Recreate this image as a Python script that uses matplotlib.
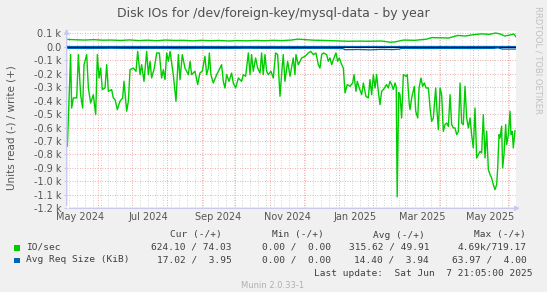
import matplotlib
matplotlib.use('Agg')
import matplotlib.pyplot as plt
import matplotlib.dates as mdates
from matplotlib.patches import Rectangle
import pandas as pd

# munin year graph: 400 days ending at last update
start = pd.Timestamp('2024-05-03 21:05')
end = pd.Timestamp('2025-06-07 21:05')

# IO/sec read (drawn negative), day offsets from start
read_days = [0.6, 3.5, 4.4, 5.9, 8.9, 10.4, 12.4, 14.2, 15.4, 17.8, 19.3, 21.3, 23.7, 25.8, 27.3,
             28.8, 30.2, 31.7, 34.1, 35.6, 37.1, 40.0, 41.5, 43.0, 45.1, 47.4, 49.8, 51.0, 53.4,
             54.9, 56.4, 59.3, 61.7, 63.2, 65.3, 66.7, 68.8, 71.2, 72.7, 74.2, 75.6, 78.0, 80.1,
             82.5, 84.5, 86.0, 87.5, 89.0, 90.5, 92.0, 94.9, 97.3,
             99.4, 100.9, 102.9, 105.3, 108.3, 109.8, 111.2, 114.2, 116.6, 118.6, 120.7, 123.1,
             124.6, 126.1, 127.0, 128.4, 130.5, 133.5, 136.5, 137.9, 139.4, 140.9, 142.4, 144.5,
             146.8, 148.3, 150.4, 152.8, 155.7, 157.2, 159.3, 161.7, 163.2, 164.6, 166.1, 168.2,
             170.0, 172.1, 173.5, 175.0, 176.5, 178.0, 179.5, 181.8, 183.9, 186.0, 187.8, 189.9,
             191.3, 192.8, 194.3, 196.7, 198.8, 201.7, 203.2,
             204.1, 206.2, 209.2, 212.2, 215.1, 217.2, 219.6, 221.9, 224.0, 225.5, 227.0, 228.5,
             231.4, 232.9, 234.4, 235.9, 237.4, 239.7, 241.2, 242.7, 244.8, 246.3, 247.8, 249.8,
             252.2, 254.6, 255.8, 257.5, 258.7, 260.5, 262.6, 264.1, 266.4, 268.5, 270.0, 271.5,
             273.0, 274.5, 275.9, 277.4, 278.9, 280.4, 281.9, 284.8, 286.3, 287.8, 289.3, 290.8,
             292.3, 293.4, 294.2, 295.6, 296.7, 298.2, 299.7, 302.0, 303.2, 305.0,
             305.7, 307.1, 309.5, 310.7, 312.5, 313.7, 315.4, 316.9, 318.4, 319.9, 322.0, 323.5,
             324.9, 326.4, 328.5, 329.7, 330.9, 332.4, 333.8, 335.3, 336.8, 338.3, 339.8, 341.3,
             342.7, 344.2, 345.7, 347.2, 348.7, 350.2, 351.6, 353.1, 354.6, 356.1, 357.6, 359.1,
             360.5, 362.0, 363.5, 365.0, 366.5, 368.0, 369.4, 370.9, 372.4, 373.9, 375.4, 376.9,
             378.3, 379.8, 381.3, 382.8, 383.7, 384.9, 385.8, 387.2, 388.1, 389.3, 390.8, 391.7,
             393.2, 394.7, 395.5, 396.7, 397.6, 399.1]
read_io = [739, 58, 455, 380, 380, 58, 356, 455, 133, 58, 306, 418, 356, 504, 58,
           232, 158, 318, 306, 133, 331, 318, 380, 393, 467, 405, 380, 257, 479,
           405, 170, 158, 182, 34, 207, 133, 257, 34, 207, 108, 232, 158, 46,
           46, 232, 170, 244, 46, 108, 34, 207, 405,
           58, 244, 58, 158, 207, 108, 207, 182, 281, 195, 182, 71,
           207, 158, 46, 207, 269, 207, 158, 133, 257, 306, 207, 257,
           195, 269, 306, 232, 257, 207, 219, 46, 207, 58, 182, 83,
           158, 195, 46, 207, 58, 182, 207, 182, 232, 46, 58, 368,
           207, 58, 257, 108, 219, 83, 207,
           58, 133, 83, 71, 46, 34, 58, 46, 133, 158, 58, 46,
           58, 108, 83, 133, 96, 46, 108, 83, 133, 158, 343, 281,
           294, 269, 207, 331, 257, 306, 356, 269, 368, 380, 244, 356,
           207, 306, 207, 331, 430, 331, 318, 281, 306, 257, 281, 318,
           269, 300, 1115, 340, 356, 529, 207, 219, 207, 430,
           467, 380, 294, 479, 529, 306, 232, 294, 269, 306, 306, 455,
           554, 529, 306, 479, 616, 306, 356, 628, 578, 566, 591, 356,
           578, 603, 603, 653, 628, 269, 566, 578, 294, 529, 603, 529,
           653, 752, 455, 826, 801, 777, 789, 504, 826, 628, 913, 950,
           975, 1024, 1061, 1024, 900, 653, 678, 591, 900, 801, 578, 727,
           653, 479, 653, 628, 752, 624]

# IO/sec write (positive)
write_days = [0, 8, 16, 24, 32, 40, 48, 56, 64, 72, 80, 88, 96, 104, 112, 120, 128, 136, 144,
              152, 160, 168, 176, 184, 192, 200, 206, 212, 220, 230, 240, 250, 260, 270, 280,
              288, 292, 300, 310, 320, 325, 332, 340, 348, 355, 362, 370, 376, 382, 386, 390,
              395, 398, 400]
write_io = [55, 52, 50, 53, 49, 50, 47, 51, 46, 49, 45, 50, 47, 48, 44, 48, 45, 47, 43,
            46, 44, 47, 45, 48, 46, 50, 57, 53, 49, 47, 44, 41, 42, 41, 43,
            34, 36, 50, 48, 56, 68, 67, 65, 84, 80, 90, 96, 92, 102, 95, 80,
            88, 95, 74]

# Avg Req Size (KiB)
size_days = [0, 20, 40, 60, 80, 100, 120, 140, 160, 180, 200, 220, 240, 246, 248, 260, 270,
             280, 290, 296, 298, 320, 340, 360, 380, 384, 388, 400]
read_size = [12, 13, 11, 13, 12, 14, 12, 13, 11, 12, 13, 12, 13, 14, 22, 20, 23,
             19, 21, 18, 12, 13, 12, 13, 12, 8, 17, 17]
write_days_size = [0, 400]
write_size = [3.95, 3.95]

y_ticks = [100, 0, -100, -200, -300, -400, -500, -600, -700, -800, -900, -1000, -1100, -1200]
month_labels = ['May 2024', 'Jul 2024', 'Sep 2024', 'Nov 2024', 'Jan 2025', 'Mar 2025', 'May 2025']
label_dates = ['2024-05-16', '2024-07-16', '2024-09-16', '2024-11-16', '2025-01-16', '2025-03-16',
               '2025-05-16']

def to_dates(days):
    return start + pd.to_timedelta(days, unit='D')

W, H = 547, 292
fig = plt.figure(figsize=(W / 100, H / 100), dpi=100, facecolor='#f0f0f0')
x0, x1, ytop, ybot = 66.7, 516, 31.3, 208.3
ax = fig.add_axes([x0 / W, 1 - ybot / H, (x1 - x0) / W, (ybot - ytop) / H])
ax.set_facecolor('white')
for s in ax.spines.values():
    s.set_visible(False)

green = '#00cc00'
blue = '#0066b3'
axcol = '#c8c8f0'

ax.axhline(0, color='black', lw=0.8, zorder=3)
ax.plot(to_dates(write_days_size), write_size, color=blue, lw=0.9, zorder=4)
ax.plot(to_dates(size_days), [-v for v in read_size], color=blue, lw=0.9, zorder=3)
ax.plot(to_dates(write_days), write_io, color=green, lw=1, zorder=3)
ax.plot(to_dates(read_days), [-v for v in read_io], color=green, lw=1, zorder=3)

ax.set_xlim(start, end)
ax.set_ylim(-1200, 115)

ax.xaxis.set_major_locator(mdates.MonthLocator())
ax.xaxis.set_minor_locator(mdates.WeekdayLocator(byweekday=mdates.MO))
ax.xaxis.set_major_formatter(plt.NullFormatter())
ax.set_yticks(y_ticks)
ax.set_yticklabels(['0.0' if v == 0 else f'{v / 1000:.1f} k' for v in y_ticks])
ax.tick_params(axis='y', length=2, color=axcol, labelsize=7, labelcolor='#555555', pad=2)
ax.tick_params(axis='x', which='both', length=0)

ax.grid(which='minor', axis='x', color='#c8c8c8', ls=(0, (1, 2)), lw=0.6, zorder=0)
ax.grid(which='major', axis='x', color='#f09090', ls=(0, (1, 2)), lw=0.6, zorder=1)
ax.grid(which='major', axis='y', color='#f09090', ls=(0, (1, 2)), lw=0.6, zorder=1)

for lab, d in zip(month_labels, label_dates):
    ax.text(pd.Timestamp(d), -0.047, lab, transform=ax.get_xaxis_transform(), ha='center',
            va='center', fontsize=7, color='#555555')

# axis arrows
ax.annotate('', xy=(0, 1.03), xytext=(0, 0), xycoords='axes fraction',
            arrowprops=dict(arrowstyle='-|>', color=axcol, lw=1, mutation_scale=7))
ax.annotate('', xy=(1.015, 0), xytext=(0, 0), xycoords='axes fraction',
            arrowprops=dict(arrowstyle='-|>', color=axcol, lw=1, mutation_scale=7))

def ftext(x, y, s, **kw):
    fig.text(x / W, 1 - y / H, s, **kw)

ftext(273, 13, 'Disk IOs for /dev/foreign-key/mysql-data - by year', ha='center', va='center',
      fontsize=9, color='#505050')
ftext(12, 128, 'Units read (-) / write (+)', rotation=90, ha='center', va='center',
      fontsize=7.5, color='#555555')
ftext(538, 60, 'RRDTOOL / TOBI OETIKER', rotation=270, ha='center', va='center',
      fontsize=6, color='#c0c0c0')

mono = dict(family='DejaVu Sans Mono', fontsize=6.8, color='#404040', va='center')
ftext(222, 235, 'Cur (-/+)', ha='right', **mono)
ftext(324, 235, 'Min (-/+)', ha='right', **mono)
ftext(425, 235, 'Avg (-/+)', ha='right', **mono)
ftext(526, 235, 'Max (-/+)', ha='right', **mono)

ftext(26.5, 247.5, 'IO/sec', ha='left', **mono)
ftext(232, 247.5, '624.10 / 74.03', ha='right', **mono)
ftext(331, 247.5, '0.00 /  0.00', ha='right', **mono)
ftext(429, 247.5, '315.62 / 49.91', ha='right', **mono)
ftext(527, 247.5, '4.69k/719.17', ha='right', **mono)

ftext(26.5, 260, 'Avg Req Size (KiB)', ha='left', **mono)
ftext(232, 260, '17.02 /  3.95', ha='right', **mono)
ftext(331, 260, '0.00 /  0.00', ha='right', **mono)
ftext(429, 260, '14.40 /  3.94', ha='right', **mono)
ftext(527, 260, '63.97 /  4.00', ha='right', **mono)

ftext(533, 273, 'Last update:  Sat Jun  7 21:05:00 2025', ha='right', **mono)
ftext(273, 285, 'Munin 2.0.33-1', ha='center', va='center', fontsize=6, color='#b0b0b0')

fig.patches.append(Rectangle((14 / W, 1 - 250.5 / H), 5.5 / W, 5.5 / H, transform=fig.transFigure,
                             facecolor=green, edgecolor='none'))
fig.patches.append(Rectangle((14 / W, 1 - 263 / H), 5.5 / W, 5.5 / H, transform=fig.transFigure,
                             facecolor=blue, edgecolor='none'))

fig.savefig('out.png', dpi=100, facecolor=fig.get_facecolor())
